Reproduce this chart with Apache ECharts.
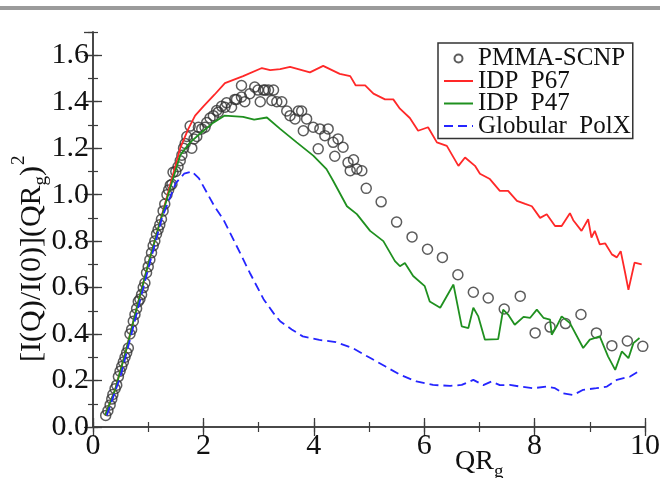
<!DOCTYPE html>
<html>
<head>
<meta charset="utf-8">
<script src="https://cdn.jsdelivr.net/npm/echarts@6/dist/echarts.min.js"></script>
<style>
html, body { margin: 0; padding: 0; background: #fff; }
#chart { width: 660px; height: 478px; }
</style>
</head>
<body>
<div id="chart"></div>
<script>
// QR_g, [I(Q)/I(0)](QR_g)^2
const pmmaScnp = [
	[0.23, 0.05], [0.27, 0.07], [0.31, 0.095], [0.34, 0.12], [0.36, 0.14], [0.4, 0.165], [0.43, 0.18],
	[0.46, 0.217], [0.49, 0.24], [0.52, 0.26], [0.55, 0.28], [0.58, 0.3], [0.61, 0.32], [0.64, 0.34],
	[0.67, 0.4], [0.7, 0.42], [0.73, 0.455], [0.76, 0.484], [0.79, 0.51], [0.82, 0.54], [0.85, 0.55],
	[0.88, 0.57], [0.91, 0.6], [0.94, 0.62], [0.97, 0.664], [1.0, 0.69], [1.03, 0.72], [1.06, 0.75],
	[1.09, 0.78], [1.12, 0.8], [1.15, 0.83], [1.18, 0.85], [1.21, 0.87], [1.24, 0.894], [1.27, 0.93],
	[1.3, 0.96], [1.34, 1.0], [1.37, 1.02], [1.4, 1.04], [1.43, 1.045], [1.45, 1.096], [1.5, 1.1],
	[1.54, 1.12], [1.58, 1.146], [1.61, 1.17], [1.64, 1.2], [1.67, 1.22], [1.7, 1.25], [1.76, 1.295],
	[1.79, 1.2], [1.83, 1.24], [1.88, 1.25], [1.91, 1.29], [1.97, 1.283], [2.03, 1.29], [2.06, 1.31],
	[2.12, 1.33], [2.18, 1.34], [2.24, 1.362], [2.27, 1.355], [2.33, 1.38], [2.39, 1.376], [2.42, 1.395],
	[2.51, 1.376], [2.57, 1.41], [2.6, 1.41], [2.69, 1.47], [2.69, 1.42], [2.75, 1.4], [2.84, 1.434],
	[2.93, 1.463], [2.99, 1.45], [3.03, 1.4], [3.09, 1.45], [3.12, 1.45], [3.18, 1.45], [3.24, 1.405],
	[3.27, 1.45], [3.33, 1.4], [3.42, 1.4], [3.51, 1.36], [3.57, 1.34], [3.66, 1.326], [3.72, 1.36],
	[3.78, 1.36], [3.81, 1.275], [3.87, 1.326], [3.99, 1.29], [4.08, 1.197], [4.11, 1.283], [4.2, 1.254],
	[4.26, 1.283], [4.35, 1.225], [4.38, 1.165], [4.44, 1.24], [4.53, 1.204], [4.62, 1.138], [4.66, 1.103],
	[4.72, 1.15], [4.78, 1.11], [4.87, 1.103], [4.95, 1.027], [5.22, 0.969], [5.5, 0.882], [5.78, 0.818],
	[6.06, 0.765], [6.33, 0.73], [6.61, 0.655], [6.89, 0.58], [7.16, 0.555], [7.45, 0.508], [7.74, 0.563],
	[8.01, 0.405], [8.28, 0.43], [8.56, 0.445], [8.84, 0.484], [9.12, 0.405], [9.4, 0.35], [9.68, 0.37],
	[9.96, 0.347],
]

const idpP67 = [
	[0.22, 0.05], [0.4, 0.16], [0.6, 0.33], [0.8, 0.52], [1.0, 0.7], [1.2, 0.87], [1.43, 1.07], [1.58, 1.2],
	[1.72, 1.28], [1.85, 1.34], [2.0, 1.38], [2.2, 1.43], [2.39, 1.48], [2.72, 1.51], [3.06, 1.545],
	[3.21, 1.536], [3.39, 1.54], [3.57, 1.55], [3.93, 1.526], [4.17, 1.554], [4.47, 1.52], [4.66, 1.51],
	[4.76, 1.47], [4.93, 1.47], [5.08, 1.435], [5.29, 1.41], [5.44, 1.41], [5.56, 1.37], [5.74, 1.33],
	[5.89, 1.275], [6.07, 1.29], [6.23, 1.225], [6.41, 1.21], [6.62, 1.124], [6.74, 1.16], [6.92, 1.124],
	[7.01, 1.09], [7.19, 1.067], [7.37, 1.016], [7.52, 1.016], [7.68, 0.973], [7.83, 0.96], [7.95, 0.95],
	[8.1, 0.9], [8.22, 0.916], [8.37, 0.865], [8.49, 0.865], [8.64, 0.92], [8.7, 0.89], [8.85, 0.844],
	[8.97, 0.894], [9.03, 0.815], [9.09, 0.844], [9.18, 0.786], [9.28, 0.79], [9.4, 0.743], [9.49, 0.73],
	[9.56, 0.757], [9.64, 0.664], [9.7, 0.59], [9.81, 0.707], [9.94, 0.7],
]

const idpP47 = [
	[0.22, 0.05], [0.4, 0.16], [0.6, 0.33], [0.8, 0.52], [1.0, 0.7], [1.2, 0.87], [1.4, 1.03], [1.58, 1.17],
	[1.76, 1.225], [2.0, 1.275], [2.18, 1.31], [2.38, 1.34], [2.72, 1.335], [2.92, 1.323], [3.15, 1.332],
	[3.39, 1.283], [3.69, 1.225], [3.99, 1.168], [4.23, 1.11], [4.35, 1.06], [4.6, 0.95], [4.78, 0.916],
	[5.02, 0.844], [5.26, 0.8], [5.47, 0.714], [5.56, 0.692], [5.65, 0.706], [5.8, 0.65], [6.01, 0.606],
	[6.1, 0.54], [6.29, 0.513], [6.53, 0.613], [6.68, 0.433], [6.8, 0.426], [6.89, 0.513], [6.98, 0.476],
	[7.1, 0.376], [7.34, 0.378], [7.43, 0.505], [7.52, 0.484], [7.64, 0.44], [7.8, 0.474], [7.92, 0.47],
	[8.04, 0.505], [8.16, 0.47], [8.28, 0.462], [8.31, 0.397], [8.4, 0.433], [8.49, 0.476], [8.64, 0.447],
	[8.88, 0.34], [9.0, 0.376], [9.18, 0.39], [9.33, 0.304], [9.46, 0.246], [9.58, 0.325], [9.7, 0.296],
	[9.79, 0.361], [9.9, 0.383],
]

const globularPolX = [
	[0.25, 0.05], [0.5, 0.22], [0.75, 0.45], [1.0, 0.68], [1.25, 0.9], [1.5, 1.05], [1.65, 1.09], [1.79, 1.1],
	[1.92, 1.07], [2.06, 1.01], [2.2, 0.95], [2.36, 0.894], [2.6, 0.78], [2.84, 0.664], [3.09, 0.55],
	[3.27, 0.49], [3.39, 0.455], [3.6, 0.42], [3.8, 0.39], [4.1, 0.375], [4.4, 0.365], [4.7, 0.34],
	[5.0, 0.3], [5.3, 0.26], [5.56, 0.225], [5.86, 0.196], [6.16, 0.181], [6.47, 0.177], [6.68, 0.181],
	[6.89, 0.203], [7.07, 0.18], [7.22, 0.196], [7.37, 0.18], [7.55, 0.181], [7.74, 0.174], [7.98, 0.167],
	[8.22, 0.174], [8.37, 0.167], [8.52, 0.145], [8.7, 0.138], [8.88, 0.16], [9.12, 0.167], [9.31, 0.174],
	[9.49, 0.203], [9.73, 0.217], [9.88, 0.239],
]

const legendNames = ['PMMA-SCNP', 'IDP  P67', 'IDP  P47', 'Globular  PolX']

const serif = 'Liberation Serif'
const frameColor = '#3c3c3c'

// text widths for the axis titles (sub/superscripts are placed by hand)
const measureCtx = document.createElement('canvas').getContext('2d')
function textWidth(text, size) {
	measureCtx.font = size + 'px "' + serif + '"'
	return measureCtx.measureText(text).width
}

function titlePiece(text, x, y, size) {
	return {
		type: 'text',
		x: x,
		y: y,
		style: {
			text: text,
			fontFamily: serif,
			fontSize: size,
			fill: '#111',
			textAlign: 'left',
			textVerticalAlign: 'middle',
		},
	}
}

const mainSize = 30
const smallSize = 19
const yMain = '[I(Q)/I(0)](QR'
const yMainW = textWidth(yMain, mainSize)
const gW = textWidth('g', smallSize)
const parW = textWidth(')', mainSize)
const xMainW = textWidth('QR', 28)

function majorAxis(dir, showLabel, interval, max) {
	return {
		type: 'value',
		position: dir,
		min: 0,
		max: max,
		interval: interval,
		axisLine: { show: true, lineStyle: { color: frameColor, width: 1.5 } },
		axisTick: { show: true, inside: true, length: 9, lineStyle: { color: frameColor, width: 1.3 } },
		splitLine: { show: false },
		axisLabel: {
			show: showLabel,
			showMaxLabel: dir === 'bottom',
			fontFamily: serif,
			fontSize: 30,
			color: '#111',
			margin: 4,
			formatter: (v) => (dir === 'left' ? v.toFixed(1) : v + ''),
		},
	}
}

function minorAxis(dir, interval, max) {
	return {
		type: 'value',
		position: dir,
		min: 0,
		max: max,
		interval: interval,
		axisLine: { show: false },
		axisTick: { show: true, inside: true, length: 5, lineStyle: { color: frameColor, width: 1.2 } },
		splitLine: { show: false },
		axisLabel: { show: false },
	}
}

// line entries in the legend: keep the stroke, hide the dot
const lineLegendItem = (name) => ({ name: name, itemStyle: { opacity: 0 } })

const myChart = echarts.init(document.getElementById('chart'))

let option = {
	backgroundColor: '#fff',
	animation: false,
	textStyle: {
		fontFamily: serif,
	},
	grid: {
		left: 93,
		right: 15,
		top: 32,
		bottom: 51,
		outerBoundsMode: 'none',
	},
	legend: {
		orient: 'vertical',
		left: 438,
		top: 43,
		padding: [3, 2, 0, 5],
		backgroundColor: '#fff',
		borderColor: '#333',
		borderWidth: 1.5,
		itemWidth: 29,
		itemHeight: 8,
		itemGap: -2.5,
		textStyle: {
			fontFamily: serif,
			fontSize: 25,
			color: '#111',
		},
		data: [
			{ name: legendNames[0], icon: 'circle' },
			lineLegendItem(legendNames[1]),
			lineLegendItem(legendNames[2]),
			lineLegendItem(legendNames[3]),
		],
	},
	xAxis: [
		majorAxis('bottom', true, 2, 10),
		majorAxis('top', false, 2, 10),
		minorAxis('bottom', 1, 10),
		minorAxis('top', 1, 10),
	],
	yAxis: [
		majorAxis('left', true, 0.2, 1.7),
		majorAxis('right', false, 0.2, 1.7),
		minorAxis('left', 0.1, 1.7),
		minorAxis('right', 0.1, 1.7),
	],
	graphic: [
		// grey rule across the top
		{
			type: 'rect',
			left: 0,
			top: 6,
			shape: { width: 660, height: 4 },
			style: { fill: '#9b9b9b' },
		},
		// x axis title QR_g
		titlePiece('QR', 455, 462, 28),
		titlePiece('g', 455 + xMainW, 472, smallSize),
		// y axis title, turned 90 degrees
		{
			type: 'group',
			x: 32,
			y: 362,
			rotation: Math.PI / 2,
			children: [
				titlePiece(yMain, 0, 0, mainSize),
				titlePiece('g', yMainW, 9, smallSize),
				titlePiece(')', yMainW + gW, 0, mainSize),
				titlePiece('2', yMainW + gW + parW + 1, -13, smallSize),
			],
		},
	],
	series: [
		{
			name: legendNames[0],
			type: 'scatter',
			symbol: 'circle',
			symbolSize: 10,
			clip: false,
			itemStyle: { color: 'rgba(0,0,0,0)', borderColor: '#333', borderWidth: 1.5 },
			data: pmmaScnp,
			z: 2,
		},
		{
			name: legendNames[1],
			type: 'line',
			symbol: 'none',
			color: '#ff2828',
			lineStyle: { color: '#ff2828', width: 1.8 },
			data: idpP67,
			z: 3,
		},
		{
			name: legendNames[2],
			type: 'line',
			symbol: 'none',
			color: '#1f901f',
			lineStyle: { color: '#1f901f', width: 1.8 },
			data: idpP47,
			z: 3,
		},
		{
			name: legendNames[3],
			type: 'line',
			symbol: 'none',
			color: '#2525ff',
			lineStyle: { color: '#2525ff', width: 1.8, type: [9, 5] },
			data: globularPolX,
			z: 3,
		},
	],
}
myChart.setOption(option)
</script>
</body>
</html>
